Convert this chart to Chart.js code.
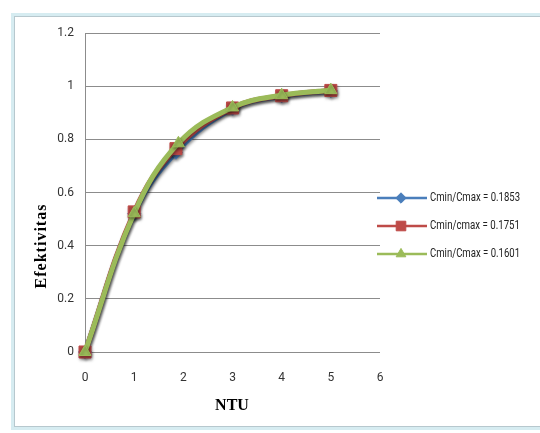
<!DOCTYPE html>
<html>
<head>
<meta charset="utf-8">
<script src="https://cdn.jsdelivr.net/npm/chart.js@4.4.0/dist/chart.umd.min.js"></script>
<style>
  html, body { margin: 0; padding: 0; background: #fff; }
  #wrap { position: relative; width: 540px; height: 433px; overflow: hidden; }
  #frame { position: absolute; left: 11px; top: 13px; width: 600px; height: 411px;
           border: 3px solid #d6ecf1; box-shadow: inset 0 0 0 1px #b7c8ce; }
  #chart { position: absolute; left: 0; top: 0; }
</style>
</head>
<body>
<div id="wrap">
  <div id="frame"></div>
  <canvas id="chart" width="540" height="433"></canvas>
</div>
<script>
// values
var ntuBlue = [0, 1, 1.85, 3, 4, 5];
var effBlue = [0, 0.52, 0.75, 0.915, 0.962, 0.982];
var ntuRed = [0, 1, 1.85, 3, 4, 5];
var effRed = [0, 0.527, 0.765, 0.918, 0.964, 0.984];
var ntuGreen = [0, 1, 1.9, 3, 4, 5];
var effGreen = [0, 0.522, 0.785, 0.92, 0.966, 0.985];
var seriesNames = ["Cmin/Cmax = 0.1853", "Cmin/cmax = 0.1751", "Cmin/Cmax = 0.1601"];
var xTicks = [0, 1, 2, 3, 4, 5, 6];
var yTicks = [0, 0.2, 0.4, 0.6, 0.8, 1, 1.2];
var xTitle = "NTU";
var yTitle = "Efektivitas";

function pts(xs, ys) {
  var out = [];
  for (var i = 0; i < xs.length; i++) {
    out.push({ x: xs[i], y: ys[i] });
  }
  return out;
}

var blue = "#4a7ebb", red = "#be4b48", green = "#9bbb59";

var datasets = [
  { label: seriesNames[0], data: pts(ntuBlue, effBlue), borderColor: blue, backgroundColor: blue,
    pointStyle: "rectRot", pointRadius: 6.5, order: 2 },
  { label: seriesNames[1], data: pts(ntuRed, effRed), borderColor: red, backgroundColor: red,
    pointStyle: "rect", pointRadius: 8.5, order: 1 },
  { label: seriesNames[2], data: pts(ntuGreen, effGreen), borderColor: green, backgroundColor: green,
    pointStyle: "triangle", pointRadius: 7, order: 0 }
];
datasets.forEach(function (d) {
  d.borderWidth = 5;
  d.tension = 0.4;
  d.pointBorderWidth = 1;
  d.pointHoverRadius = d.pointRadius;
  d.clip = false;
  d.showLine = true;
});

var shadowPlugin = {
  id: "shadow",
  beforeDatasetsDraw: function (chart) {
    var ctx = chart.ctx;
    ctx.save();
    ctx.shadowColor = "rgba(0,0,0,0.35)";
    ctx.shadowBlur = 3;
    ctx.shadowOffsetX = 1;
    ctx.shadowOffsetY = 2;
  },
  afterDatasetsDraw: function (chart) {
    chart.ctx.restore();
  }
};

var extrasPlugin = {
  id: "extras",
  afterDraw: function (chart) {
    var ctx = chart.ctx;
    ctx.save();
    // axis titles
    ctx.fillStyle = "#000";
    ctx.font = "bold 16px 'Liberation Serif'";
    ctx.textAlign = "center";
    ctx.textBaseline = "middle";
    ctx.fillText(xTitle, 232, 406);
    ctx.save();
    ctx.translate(42, 246);
    ctx.rotate(-Math.PI / 2);
    ctx.letterSpacing = "1px";
    ctx.fillText(yTitle, 0, 0);
    ctx.restore();
    // legend
    var rowY = [198, 226, 254];
    chart.data.datasets.forEach(function (d, i) {
      var y = rowY[i];
      ctx.strokeStyle = d.borderColor;
      ctx.fillStyle = d.backgroundColor;
      ctx.lineWidth = 2.5;
      ctx.beginPath();
      ctx.moveTo(377, y);
      ctx.lineTo(427, y);
      ctx.stroke();
      ctx.lineWidth = 1;
      Chart.helpers.drawPoint(ctx, { pointStyle: d.pointStyle, radius: d.pointRadius * 0.8, rotation: 0, borderWidth: 1 }, 401, y);
      ctx.fillStyle = "#222";
      ctx.font = "12px Roboto";
      ctx.textAlign = "left";
      ctx.fillText(d.label, 430, y, 90);
    });
    ctx.restore();
  }
};

var tickFont = { family: "Roboto", size: 12 };

new Chart(document.getElementById("chart"), {
  type: "line",
  data: { datasets: datasets },
  options: {
    responsive: false,
    animation: false,
    events: [],
    layout: { padding: { left: 0, right: 160, top: 33, bottom: 0 } },
    plugins: { legend: { display: false }, tooltip: { enabled: false } },
    scales: {
      x: {
        type: "linear", min: 0, max: 6,
        afterBuildTicks: function (axis) { axis.ticks = xTicks.map(function (v) { return { value: v }; }); },
        grid: { display: false },
        border: { display: false },
        ticks: { padding: 11, color: "#333", font: tickFont },
        afterFit: function (s) { s.height = 81; }
      },
      y: {
        min: 0, max: 1.2,
        afterBuildTicks: function (axis) { axis.ticks = yTicks.map(function (v) { return { value: v }; }); },
        grid: { color: "#8c8c8c", drawTicks: false },
        border: { display: true, color: "#8c8c8c" },
        ticks: { padding: 11, color: "#333", font: tickFont, callback: function (v) { return String(v); } },
        afterFit: function (s) { s.width = 85; }
      }
    }
  },
  plugins: [shadowPlugin, extrasPlugin]
});
</script>
</body>
</html>
